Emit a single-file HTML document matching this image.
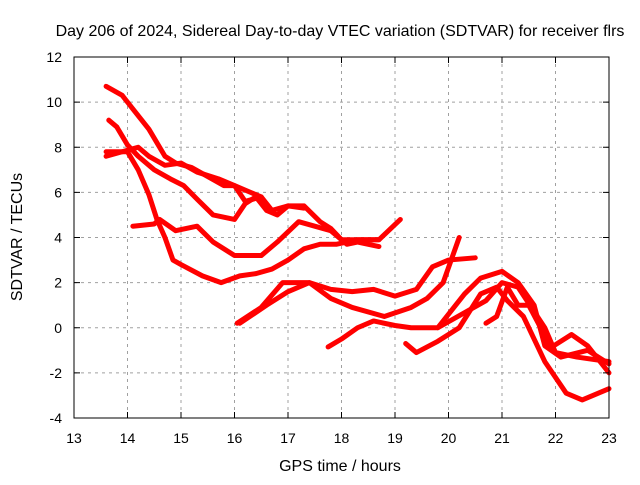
<!DOCTYPE html>
<html><head><meta charset="utf-8"><style>
body{margin:0;background:#fff}
svg text{font-family:"Liberation Sans",sans-serif;font-size:14px;fill:#000}
svg text.big{font-size:16px}
</style></head><body>
<svg width="640" height="480">
<g id="grid"></g>
<g id="series"></g>
<rect x="74" y="57" width="535" height="361" fill="none" stroke="#000" stroke-width="1"/>
<g id="ticks"></g>
<text class="big" x="340" y="36" text-anchor="middle">Day 206 of 2024, Sidereal Day-to-day VTEC variation (SDTVAR) for receiver flrs</text>
<text class="big" x="340" y="471" text-anchor="middle">GPS time / hours</text>
<text class="big" transform="translate(22,237) rotate(-90)" text-anchor="middle">SDTVAR / TECUs</text>
</svg>
<script>
const xTicks=[13,14,15,16,17,18,19,20,21,22,23];
const yTicks=[-4,-2,0,2,4,6,8,10,12];
const seriesA=[[13.6,10.7],[13.9,10.3],[14.1,9.7],[14.4,8.8],[14.7,7.6],[14.9,7.3],[15.2,7.1],[15.5,6.7],[15.8,6.3],[16.0,6.3],[16.2,5.6],[16.5,5.8],[16.7,5.2],[17.0,5.4],[17.3,5.4],[17.6,4.7],[17.8,4.4],[18.0,3.9],[18.4,3.9],[18.7,3.9],[19.1,4.8]];
const seriesB=[[13.65,9.2],[13.8,8.9],[14.0,8.1],[14.2,7.6],[14.5,7.0],[14.8,6.6],[15.05,6.3],[15.3,5.7],[15.6,5.0],[16.0,4.8],[16.2,5.5],[16.4,5.8],[16.6,5.2],[16.8,5.0],[17.0,5.4],[17.3,5.3]];
const seriesC=[[13.6,7.8],[14.0,7.8],[14.2,7.0],[14.4,5.9],[14.55,4.8],[14.7,4.0],[14.85,3.0],[15.0,2.8],[15.4,2.3],[15.75,2.0],[16.1,2.3],[16.4,2.4],[16.7,2.6],[17.0,3.0],[17.3,3.5],[17.6,3.7],[17.9,3.7],[18.3,3.9],[18.7,3.9]];
const seriesD=[[13.6,7.6],[13.9,7.8],[14.2,8.0],[14.4,7.6],[14.7,7.2],[15.0,7.3],[15.3,6.9],[15.7,6.6],[16.0,6.3],[16.3,6.0],[16.5,5.8]];
const seriesE=[[14.1,4.5],[14.5,4.6],[14.6,4.8],[14.9,4.3],[15.3,4.5],[15.6,3.8],[16.0,3.2],[16.5,3.2],[16.8,3.8],[17.2,4.7],[17.5,4.5],[17.8,4.3],[18.1,3.7],[18.3,3.8],[18.7,3.6]];
const seriesF=[[16.05,0.2],[16.5,0.9],[16.9,2.0],[17.4,2.0],[17.8,1.7],[18.2,1.6],[18.6,1.7],[19.0,1.4],[19.4,1.7],[19.7,2.7],[20.0,3.0],[20.5,3.1]];
const seriesG=[[16.1,0.2],[16.6,1.0],[17.0,1.6],[17.4,2.0],[17.8,1.3],[18.2,0.9],[18.8,0.5],[19.3,0.9],[19.6,1.3],[19.9,2.0],[20.2,4.0]];
const seriesH=[[17.75,-0.85],[18.0,-0.5],[18.3,0.0],[18.6,0.3],[19.0,0.1],[19.3,0.0],[19.8,0.0],[20.3,1.5],[20.6,2.2],[21.0,2.5],[21.3,2.0],[21.6,1.0],[21.8,-0.8],[22.1,-1.3],[22.6,-1.0],[23.0,-1.6]];
const seriesI=[[19.2,-0.7],[19.4,-1.1],[19.8,-0.6],[20.2,0.0],[20.6,1.5],[20.9,1.8],[21.1,1.2],[21.4,0.5],[21.8,-1.5],[22.2,-2.9],[22.5,-3.2],[22.8,-2.9],[23.0,-2.7]];
const seriesJ=[[19.8,0.0],[20.4,0.8],[20.7,1.2],[21.0,2.0],[21.3,1.8],[21.8,0.0],[22.0,-1.1],[22.4,-1.3],[23.0,-1.5]];
const seriesK=[[20.7,0.2],[20.9,0.5],[21.1,1.8],[21.3,1.0],[21.5,1.0],[21.7,0.1],[21.9,-0.9],[22.3,-0.3],[22.6,-0.8],[23.0,-2.0]];
const allSeries=[seriesA,seriesB,seriesC,seriesD,seriesE,seriesF,seriesG,seriesH,seriesI,seriesJ,seriesK];
const sx=v=>74+(v-13)*53.5;
const sy=v=>418-(v+4)*22.5625;
const NS="http://www.w3.org/2000/svg";
const grid=document.getElementById('grid'),ticks=document.getElementById('ticks'),sg=document.getElementById('series');
function mk(tag,attrs,parent){const e=document.createElementNS(NS,tag);for(const k in attrs)e.setAttribute(k,attrs[k]);parent.appendChild(e);return e;}
xTicks.forEach(t=>{
 const X=sx(t);
 if(t>13&&t<23){const g=mk('line',{x1:X,x2:X,y1:57,y2:418,stroke:'#a0a0a0','stroke-dasharray':'3,4'},grid);
 
 }
 const tk=mk('path',{d:`M${X},418v-6M${X},57v6`,stroke:'#000'},ticks);
 
 
 const l=mk('text',{x:X,y:443,'text-anchor':'middle'},ticks);l.textContent=t;
 
 
});
yTicks.forEach(t=>{
 const Y=sy(t);
 if(t>-4&&t<12){const g=mk('line',{x1:74,x2:609,y1:Y,y2:Y,stroke:'#a0a0a0','stroke-dasharray':'3,4'},grid);
 
 }
 const tk=mk('path',{d:`M74,${Y}h6M609,${Y}h-6`,stroke:'#000'},ticks);
 
 
 const l=mk('text',{x:62,y:Y+5,'text-anchor':'end'},ticks);l.textContent=t;
 
 
});
allSeries.forEach((s,i)=>{
 const p=mk('polyline',{points:s.map(d=>sx(d[0])+','+sy(d[1])).join(' '),fill:'none',stroke:'#ff0000','stroke-width':5,'stroke-linejoin':'round','stroke-linecap':'round'},sg);
 
 
});
</script>
</body></html>
